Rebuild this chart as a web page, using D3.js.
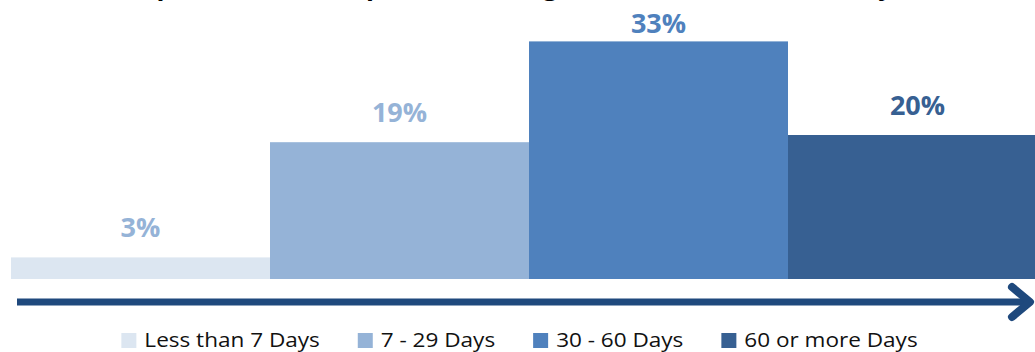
<!DOCTYPE html>
<html>
<head>
<meta charset="utf-8">
<script src="https://cdn.jsdelivr.net/npm/d3@7"></script>
<style>
  html, body { margin: 0; padding: 0; background: #ffffff; overflow: hidden; }
  svg { display: block; }
</style>
</head>
<body>
<svg id="chart" width="1035" height="352"></svg>
<script>
// Share of requests by time taken to complete
const categories = ["Less than 7 Days", "7 - 29 Days", "30 - 60 Days", "60 or more Days"];
const values = [3, 19, 33, 20];
const barColors = ["#dce6f1", "#95b3d7", "#4f81bd", "#376092"];
const labelColors = ["#95b3d7", "#95b3d7", "#4f81bd", "#376092"];
const titleText = "Time to Complete the Initial Report and Findings Across Each Local Authority";

const W = 1035, H = 352;
const svg = d3.select("#chart");

const plot = { left: 11, right: 1047, top: 27, bottom: 279 };

const x = d3.scaleBand().domain(categories).range([plot.left, plot.right]).padding(0);
const y = d3.scaleLinear().domain([0, 35]).range([plot.bottom, plot.top]);

// Title (sits mostly above the visible area)
const title = svg.append("text")
  .attr("x", 0).attr("y", -5)
  .attr("font-family", "'Open Sans', sans-serif")
  .attr("font-weight", 700)
  .attr("font-size", 26)
  .attr("fill", "#000")
  .text(titleText);
{
  const node = title.node();
  const ip = titleText.indexOf("p");
  const iy = titleText.lastIndexOf("y");
  const mid = i => { const e = node.getExtentOfChar(i); return e.x + e.width / 2; };
  const span = mid(iy) - mid(ip);
  const ls = (885 - 164 - span) / (iy - ip);
  title.attr("letter-spacing", ls);
  title.attr("x", 164 - mid(ip));
}

// Bars
svg.append("g").selectAll("rect")
  .data(values)
  .join("rect")
  .attr("x", (d, i) => x(categories[i]))
  .attr("y", d => y(d))
  .attr("width", x.bandwidth())
  .attr("height", d => y(0) - y(d))
  .attr("fill", (d, i) => barColors[i]);

// Value labels
svg.append("g").selectAll("text")
  .data(values)
  .join("text")
  .attr("x", (d, i) => x(categories[i]) + x.bandwidth() / 2)
  .attr("y", d => Math.max(y(d) - 20, 33))
  .attr("text-anchor", "middle")
  .attr("font-family", "'Open Sans', sans-serif")
  .attr("font-weight", 700)
  .attr("font-size", 27)
  .attr("fill", (d, i) => labelColors[i])
  .text(d => d + "%");

// Timeline arrow under the bars
const arrowY = 302;
const arrowColor = "#1f497d";
const arrowEnd = 1030;
svg.append("line")
  .attr("x1", plot.left + 6).attr("x2", arrowEnd - 2)
  .attr("y1", arrowY).attr("y2", arrowY)
  .attr("stroke", arrowColor).attr("stroke-width", 7);
svg.append("path")
  .attr("d", `M${arrowEnd - 18},${arrowY - 15} L${arrowEnd},${arrowY} L${arrowEnd - 18},${arrowY + 15}`)
  .attr("fill", "none")
  .attr("stroke", arrowColor)
  .attr("stroke-width", 8)
  .attr("stroke-linecap", "round")
  .attr("stroke-linejoin", "round");

// Legend (text slightly widened horizontally)
const stretch = 1.1;
const legend = svg.append("g");
const items = legend.selectAll("g")
  .data(categories)
  .join("g");
items.append("rect")
  .attr("width", 15).attr("height", 15)
  .attr("y", 333)
  .attr("fill", (d, i) => barColors[i]);
items.append("text")
  .attr("transform", `translate(23,347) scale(${stretch},1)`)
  .attr("font-family", "'Open Sans', sans-serif")
  .attr("font-size", 20.5)
  .attr("fill", "#111")
  .text(d => d);

let cursor = 0;
const offsets = [];
items.each(function () {
  offsets.push(cursor);
  const w = d3.select(this).select("text").node().getComputedTextLength() * stretch;
  cursor += 23 + w + 38;
});
const total = cursor - 38;
const start = 519.5 - total / 2;
items.attr("transform", (d, i) => `translate(${start + offsets[i]},0)`);
</script>
</body>
</html>
